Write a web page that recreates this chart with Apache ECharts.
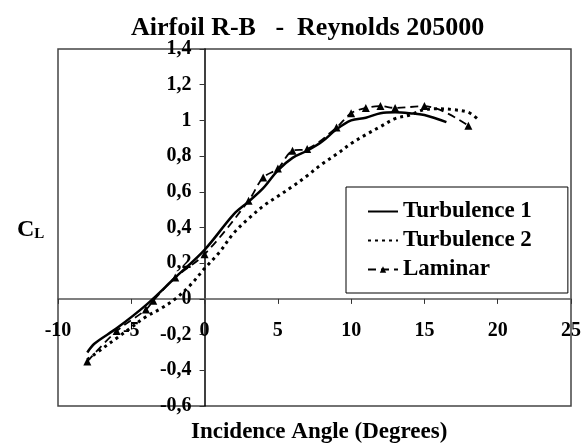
<!DOCTYPE html>
<html>
<head>
<meta charset="utf-8">
<script src="https://cdn.jsdelivr.net/npm/echarts@6/dist/echarts.min.js"></script>
<style>
  html, body { margin: 0; padding: 0; background: #fff; }
  #chart { width: 585px; height: 444px; }
</style>
</head>
<body>
<div id="chart"></div>
<script>
// data
var turb1X = [-8, -7.5, -6, -4, -2, 0, 2, 3, 4, 5, 6, 7, 8, 9, 10, 11, 12, 13, 14, 15, 16.5];
var turb1Y = [-0.3, -0.25, -0.165, -0.035, 0.12, 0.275, 0.475, 0.545, 0.62, 0.72, 0.79, 0.83, 0.88, 0.95, 1.0, 1.015, 1.04, 1.045, 1.04, 1.03, 0.99];

var turb2X = [-8, -7, -6, -5, -4, -3, -2, -1, 0, 1, 2, 3, 4, 5, 6, 7, 8, 9, 10, 11, 12, 13, 14, 15, 16, 17, 18, 18.6];
var turb2Y = [-0.34, -0.28, -0.22, -0.16, -0.1, -0.055, 0.0, 0.075, 0.17, 0.26, 0.37, 0.45, 0.52, 0.575, 0.63, 0.69, 0.755, 0.81, 0.87, 0.92, 0.965, 1.01, 1.03, 1.06, 1.065, 1.06, 1.045, 1.01];

var lamX = [-8, -6, -4, -3.5, -2, 0, 3, 4, 5, 6, 7, 9, 10, 11, 12, 13, 15, 18];
var lamY = [-0.35, -0.18, -0.06, -0.01, 0.12, 0.25, 0.55, 0.68, 0.73, 0.83, 0.84, 0.96, 1.04, 1.07, 1.08, 1.07, 1.08, 0.97];

var seriesNames = ['Turbulence 1', 'Turbulence 2', 'Laminar'];

var xMin = -10, xMax = 25, xStep = 5;
var yMin = -0.6, yMax = 1.4, yStep = 0.2;

function pairs(xs, ys) {
  return xs.map(function (x, i) { return [x, ys[i]]; });
}

var font = 'Liberation Serif';

// plot box
var gridLeft = 58, gridRight = 14, gridTop = 49, gridBottom = 38;
var plotW = 585 - gridLeft - gridRight;
var plotH = 444 - gridTop - gridBottom;
// axes cross at zero: shift them from the box edges
var yAxisShift = (0 - xMin) / (xMax - xMin) * plotW;
var xAxisShift = (0 - yMin) / (yMax - yMin) * plotH;

var chart = echarts.init(document.getElementById('chart'));

var option = {
  animation: false,
  backgroundColor: '#fff',
  title: [
    {
      text: 'Airfoil R-B   -  Reynolds 205000',
      left: 126,
      top: 10,
      textStyle: { fontFamily: font, fontWeight: 'bold', fontSize: 26, color: '#000' }
    },
    {
      text: 'Incidence Angle (Degrees)',
      left: 186,
      top: 416,
      textStyle: { fontFamily: font, fontWeight: 'bold', fontSize: 23, color: '#000' }
    },
    {
      text: '{a|C}{b|L}',
      left: 12,
      top: 212,
      textStyle: {
        fontFamily: font, fontWeight: 'bold', color: '#000',
        rich: {
          a: { fontFamily: font, fontWeight: 'bold', fontSize: 24, color: '#000' },
          b: { fontFamily: font, fontWeight: 'bold', fontSize: 15, color: '#000', padding: [10, 0, 0, 0] }
        }
      }
    }
  ],
  legend: {
    orient: 'vertical',
    left: 346,
    top: 187,
    padding: [13, 36, 12, 21],
    itemGap: 6,
    itemWidth: 30,
    itemHeight: 8,
    borderColor: '#000',
    borderWidth: 1,
    backgroundColor: '#fff',
    data: [
      { name: seriesNames[0], itemStyle: { opacity: 0 } },
      { name: seriesNames[1], itemStyle: { opacity: 0 } },
      { name: seriesNames[2] }
    ],
    textStyle: { fontFamily: font, fontWeight: 'bold', fontSize: 23, color: '#000' }
  },
  grid: {
    left: gridLeft, right: gridRight, top: gridTop, bottom: gridBottom,
    show: true,
    borderColor: '#444',
    borderWidth: 1.5
  },
  xAxis: {
    type: 'value',
    min: xMin, max: xMax, interval: xStep,
    position: 'bottom',
    offset: -xAxisShift,
    axisLine: { onZero: false, lineStyle: { color: '#555', width: 1.5 } },
    axisTick: { show: true, length: 5, lineStyle: { color: '#333' } },
    splitLine: { show: false },
    axisLabel: { margin: 22, fontFamily: font, fontWeight: 'bold', fontSize: 20, color: '#000' }
  },
  yAxis: {
    type: 'value',
    min: yMin, max: yMax, interval: yStep,
    position: 'left',
    offset: -yAxisShift,
    axisLine: { onZero: false, lineStyle: { color: '#000', width: 1.5 } },
    axisTick: { show: true, length: 5, lineStyle: { color: '#333' } },
    splitLine: { show: false },
    axisLabel: {
      margin: 13, fontFamily: font, fontWeight: 'bold', fontSize: 20, color: '#000',
      formatter: function (v) { return String(Math.round(v * 10) / 10).replace('.', ','); }
    }
  },
  series: [
    {
      name: seriesNames[0],
      type: 'line',
      smooth: 0.35,
      symbol: 'none',
      data: pairs(turb1X, turb1Y),
      lineStyle: { color: '#000', width: 2.5 },
      itemStyle: { color: '#000' }
    },
    {
      name: seriesNames[1],
      type: 'line',
      smooth: 0.35,
      symbol: 'none',
      data: pairs(turb2X, turb2Y),
      lineStyle: { color: '#000', width: 3, type: [3, 4] },
      itemStyle: { color: '#000' }
    },
    {
      name: seriesNames[2],
      type: 'line',
      smooth: 0.35,
      symbol: 'triangle',
      symbolSize: 8,
      data: pairs(lamX, lamY),
      lineStyle: { color: '#000', width: 1.8, type: [8, 5] },
      itemStyle: { color: '#000' }
    }
  ]
};

chart.setOption(option);
</script>
</body>
</html>
